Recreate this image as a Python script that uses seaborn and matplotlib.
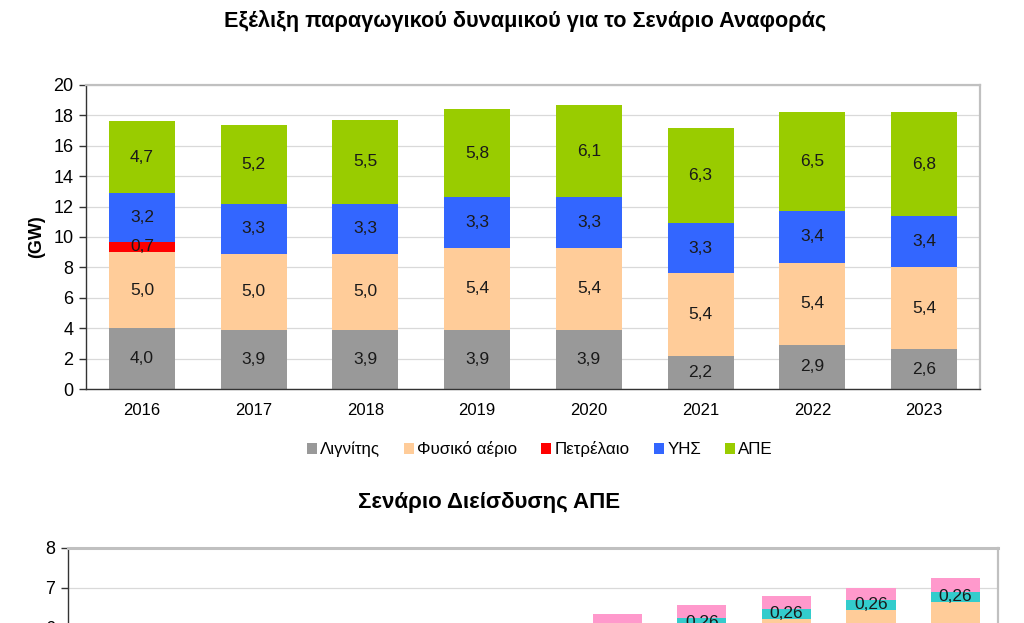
import matplotlib
matplotlib.use("Agg")
import matplotlib.pyplot as plt
import seaborn as sns
import numpy as np
from matplotlib.patches import Patch

# Data - reference scenario (GW)
years = ["2016", "2017", "2018", "2019", "2020", "2021", "2022", "2023"]
lignite = [4.0, 3.9, 3.9, 3.9, 3.9, 2.2, 2.9, 2.6]
gas = [5.0, 5.0, 5.0, 5.4, 5.4, 5.4, 5.4, 5.4]
oil = [0.7, 0, 0, 0, 0, 0, 0, 0]
hydro = [3.2, 3.3, 3.3, 3.3, 3.3, 3.3, 3.4, 3.4]
res = [4.7, 5.2, 5.5, 5.8, 6.1, 6.3, 6.5, 6.8]
series_names = ["Λιγνίτης", "Φυσικό αέριο", "Πετρέλαιο", "ΥΗΣ", "ΑΠΕ"]
series_colors = ["#999999", "#FFCC99", "#FF0000", "#3366FF", "#99CC00"]

# Data - RES penetration scenario (only the top of it is visible)
years2 = ["2013", "2014", "2015", "2016", "2017", "2018",
          "2019", "2020", "2021", "2022", "2023"]
base2 = [4.9, 5.0, 5.1, 5.2, 5.3, 5.5, 5.82, 6.0, 6.22, 6.45, 6.65]
cyan2 = [0.26, 0.26, 0.26, 0.26, 0.26, 0.26, 0.26, 0.26, 0.26, 0.26, 0.26]
pink2 = [0.2, 0.2, 0.2, 0.2, 0.2, 0.29, 0.27, 0.32, 0.32, 0.29, 0.34]
colors2 = ["#FFCC99", "#33CCCC", "#FF99CC"]

sns.set_style("white")
plt.rcParams["font.family"] = ["Liberation Sans", "DejaVu Sans"]
plt.rcParams["text.color"] = "black"
plt.rcParams["xtick.color"] = "black"
plt.rcParams["ytick.color"] = "black"
plt.rcParams["axes.labelcolor"] = "black"

fig = plt.figure(figsize=(10.24, 6.23), dpi=100)
fig.patch.set_facecolor("white")


def fmt(v, nd=1):
    return f"{v:.{nd}f}".replace(".", ",")


def style_axes(ax, ncat, ymin, ymax, ystep):
    ax.set_xlim(-0.5, ncat - 0.5)
    ax.set_ylim(ymin, ymax)
    ax.set_yticks(np.arange(np.ceil(ymin), ymax + 0.01, ystep))
    ax.set_xticks(np.arange(-0.5, ncat, 1), minor=True)
    ax.tick_params(axis="x", which="major", length=0, pad=10, labelsize=12)
    ax.tick_params(axis="x", which="minor", length=5, width=1, color="#333333", direction="out")
    ax.tick_params(axis="y", length=5, width=1, color="#333333", direction="out", left=True,
                   labelsize=13, pad=4)
    ax.grid(axis="y", color="#d9d9d9", linewidth=0.9)
    ax.set_axisbelow(True)
    for side in ["left", "bottom"]:
        ax.spines[side].set_color("#333333")
        ax.spines[side].set_linewidth(1.0)
    for side in ["top", "right"]:
        ax.spines[side].set_visible(True)
        ax.spines[side].set_color("#c0c0c0")
        ax.spines[side].set_linewidth(1.6)
    ax.set_xlabel("")
    ax.set_ylabel("")


# ---- top chart: stacked bars drawn as overlaid cumulative totals
ax1 = fig.add_axes([0.084, 0.3756, 0.873, 0.488])
layers = [lignite, gas, oil, hydro, res]
cum = np.cumsum(np.array(layers), axis=0)
for i in range(len(layers) - 1, -1, -1):
    sns.barplot(x=years, y=cum[i], order=years, color=series_colors[i], width=0.59,
                saturation=1, linewidth=0, ax=ax1)
style_axes(ax1, len(years), 0, 20, 2)
ax1.set_ylabel("(GW)", fontsize=13, fontweight="bold", labelpad=6)

for i in range(len(layers)):
    for j, y in enumerate(years):
        v = layers[i][j]
        if v <= 0:
            continue
        mid = cum[i][j] - v / 2
        ax1.text(j, mid, fmt(v), ha="center", va="center", fontsize=12.5, color="#1a1a1a")

fig.text(0.513, 0.966, "Εξέλιξη παραγωγικού δυναμικού για το Σενάριο Αναφοράς",
         ha="center", va="center", fontsize=15.6, fontweight="bold")

handles = [Patch(facecolor=c, edgecolor="none") for c in series_colors]
fig.legend(handles, series_names, loc="center", bbox_to_anchor=(0.527, 0.279), ncol=5,
           frameon=False, fontsize=12.2, handlelength=0.6, handleheight=0.6,
           handletextpad=0.2, columnspacing=1.4)

# ---- bottom chart, cut off by the figure edge (only 5.4 .. 8 of it fits)
y2_min = 5.4
ax2 = fig.add_axes([0.0664, 0.1204 - (8 - y2_min) * 40 / 623, 0.908, (8 - y2_min) * 40 / 623])
layers2 = [base2, cyan2, pink2]
cum2 = np.cumsum(np.array(layers2), axis=0)
for i in range(len(layers2) - 1, -1, -1):
    sns.barplot(x=years2, y=cum2[i], order=years2, color=colors2[i], width=0.58,
                saturation=1, linewidth=0, ax=ax2)
style_axes(ax2, len(years2), y2_min, 8, 1)
ax2.set_xticklabels([])
ax2.spines["top"].set_linewidth(2.2)
for j in range(len(years2)):
    mid = cum2[1][j] - cyan2[j] / 2
    if mid > 6.0:
        ax2.text(j, mid, fmt(cyan2[j], 2), ha="center", va="center", fontsize=12.5,
                 color="#1a1a1a")

fig.text(0.478, 0.194, "Σενάριο Διείσδυσης ΑΠΕ", ha="center", va="center",
         fontsize=16, fontweight="bold")

fig.savefig("out.png", dpi=100)
